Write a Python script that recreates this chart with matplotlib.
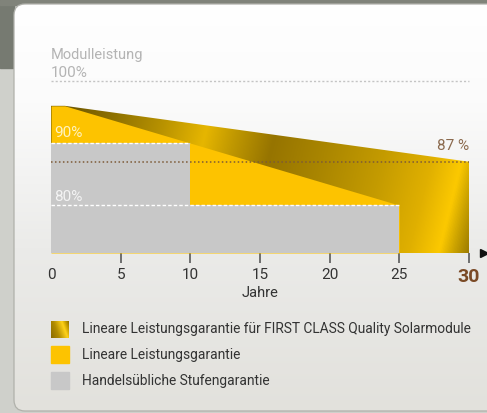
import numpy as np
import matplotlib
matplotlib.use("Agg")
import matplotlib.pyplot as plt
from matplotlib.colors import LinearSegmentedColormap
from matplotlib.patches import FancyBboxPatch, Rectangle

# ---------------- data ----------------
fc_years = [0, 1, 30]            # FIRST CLASS linear guarantee
fc_values = [96, 96, 87]
lin_years = [0, 1, 25]           # standard linear guarantee
lin_values = [96, 96, 80]
step_edges = [0, 10, 25]         # commercial step guarantee
step_levels = [90, 80, 80]
ref_levels = [100, 90, 80, 87]
xticks = [0, 5, 10, 15, 20, 25, 30]
xtick_labels = ["0", "5", "10", "15", "20", "25", "30"]
legend_labels = ["Lineare Leistungsgarantie für FIRST CLASS Quality Solarmodule",
                 "Lineare Leistungsgarantie",
                 "Handelsübliche Stufengarantie"]

plt.rcParams['font.family'] = ['Roboto', 'DejaVu Sans']

W, H = 487, 413
fig = plt.figure(figsize=(W / 100, H / 100), dpi=100)

# ---------------- background (page + card) ----------------
bg = fig.add_axes([0, 0, 1, 1])
bg.set_xlim(0, W)
bg.set_ylim(H, 0)
bg.axis('off')
bg.add_patch(Rectangle((0, 0), W, H, color='#cfd0cb', zorder=0))
bg.add_patch(Rectangle((0, 0), 14, 68, color='#767a71', zorder=0.1))
bg.add_patch(Rectangle((0, 0), W, 5, color='#80837a', zorder=0.1))
card = FancyBboxPatch((14, 4), W + 40, H - 6, boxstyle="round,pad=0,rounding_size=11",
                      facecolor='none', edgecolor='#b0b1ab', lw=0.9, zorder=2)
bg.add_patch(card)
grad = np.linspace(0, 1, 256)[:, None]
card_cmap = LinearSegmentedColormap.from_list(
    "card", [(0, '#ffffff'), (0.25, '#fbfbfb'), (0.6, '#ebebe9'), (1, '#e2e1dc')])
im_bg = bg.imshow(grad, cmap=card_cmap, extent=(0, W, H, 0), aspect='auto', zorder=1)
im_bg.set_clip_path(card)

# ---------------- chart axes ----------------
base = 72.3
ax = fig.add_axes([51 / W, 1 - 253 / H, 418 / W, 172 / H])
ax.set_xlim(0, 30)
ax.set_ylim(base, 100)
ax.patch.set_alpha(0)
for s in ax.spines.values():
    s.set_visible(False)
ax.set_yticks([])

gold_stops_px = [(30, '#6e5700'), (80, '#8f7200'), (130, '#b89200'), (175, '#e6b600'),
                 (205, '#c09800'), (245, '#967400'), (300, '#aa8600'), (360, '#c49b00'),
                 (410, '#e0b000'), (440, '#fcc900'), (455, '#c9a100'), (472, '#967600')]
lo, hi = gold_stops_px[0][0], gold_stops_px[-1][0]
gold_cmap = LinearSegmentedColormap.from_list(
    "gold", [((p - lo) / (hi - lo), c) for p, c in gold_stops_px])

# gold (FIRST CLASS) area with metallic gradient
gold_poly = ax.fill_between(fc_years, fc_values, base, facecolor='none', edgecolor='none', zorder=1)
xx = np.linspace(0, 30, 600)
yy = np.linspace(base, 100, 300)
X, Y = np.meshgrid(xx, yy)
px_per_year = 418 / 30
px_per_pct = 172 / (100 - base)
U = (51 + X * px_per_year) - 0.25 * (Y - base) * px_per_pct
Un = np.clip((U - lo) / (hi - lo), 0, 1)
im_gold = ax.imshow(Un, cmap=gold_cmap, vmin=0, vmax=1, origin='lower',
                    extent=(0, 30, base, 100), aspect='auto', zorder=1,
                    interpolation='bilinear')
im_gold.set_clip_path(gold_poly.get_paths()[0], transform=ax.transData)

# yellow linear guarantee
ax.fill_between(lin_years, lin_values, base, color='#fdc300', lw=0, zorder=2)
# grey step guarantee
ax.fill_between(step_edges, step_levels, base, step='post', color='#c8c8c8', lw=0, zorder=3)

# reference lines
ax.hlines(ref_levels[0], 0, 30, colors='#c4c4c4', linestyles=(0, (1.5, 1.5)), lw=1.0,
          clip_on=False, zorder=4)
ax.hlines(ref_levels[1], 0, step_edges[1], colors='white', linestyles=(0, (2.5, 1.5)), lw=1.0, zorder=4)
ax.hlines(ref_levels[2], 0, step_edges[2], colors='white', linestyles=(0, (2.5, 1.5)), lw=1.0, zorder=4)
ax.hlines(ref_levels[3], 0, 30, colors='#7d5a36', linestyles=(0, (1, 1.6)), lw=1.1, zorder=4)

# labels in chart
ax.text(0, 1.151, "Modulleistung", transform=ax.get_xaxis_transform(), ha='left', va='center',
        fontsize=10.5, color='#b4b4b4')
ax.text(0, 1.044, "100%", transform=ax.get_xaxis_transform(), ha='left', va='center',
        fontsize=11, color='#b4b4b4')
ax.text(0.2, 91.55, "90%", ha='left', va='center', fontsize=11, color='#fff3c0', zorder=5)
ax.text(0.2, 81.3, "80%", ha='left', va='center', fontsize=11, color='#f4f4f4', zorder=5)
ax.text(30, 89.5, "87 %", ha='right', va='center', fontsize=11, color='#8b6a4e', zorder=5)

# x axis
ax.set_xticks(xticks)
ax.set_xticklabels(xtick_labels)
ax.tick_params(axis='x', length=7.5, width=1.4, color='#6e6e6e', pad=3,
               labelsize=11, labelcolor='#333333')
ax.xaxis.get_major_ticks()[0].tick1line.set_visible(False)
lab30 = ax.get_xticklabels()[-1]
lab30.set_fontsize(14)
lab30.set_fontweight('bold')
lab30.set_color('#7a4a26')
ax.plot([1.035], [0.0], marker='>', color='#111111', ms=6, transform=ax.transAxes,
        clip_on=False, zorder=5)
ax.text(0.5, -0.233, "Jahre", transform=ax.transAxes, ha='center', va='center',
        fontsize=10.5, color='#333333')

# ---------------- legend ----------------
sw_tops = [321, 346, 372]
sw_h = 17
legend_colors = [None, '#fdc300', '#c8c8c8']
for top, lab, col in zip(sw_tops, legend_labels, legend_colors):
    if col is None:
        sax = fig.add_axes([51 / W, 1 - (top + sw_h) / H, 18 / W, sw_h / H])
        sax.axis('off')
        g = np.linspace(0, 1, 60)
        GX, GY = np.meshgrid(g, g)
        V = GX + 0.35 * GY
        sw_cmap = LinearSegmentedColormap.from_list(
            "sw", [(0, '#8a6b00'), (0.35, '#b18c00'), (0.7, '#ffd21a'), (0.85, '#caa000'), (1, '#8f7000')])
        sax.imshow(V / V.max(), cmap=sw_cmap, origin='lower', extent=(0, 1, 0, 1), aspect='auto')
    else:
        bg.add_patch(Rectangle((51, top), 18, sw_h, color=col, zorder=3))
    bg.text(82, top + sw_h / 2, lab, ha='left', va='center', fontsize=9.9, color='#333333', zorder=3)

fig.savefig("out.png", dpi=100)
